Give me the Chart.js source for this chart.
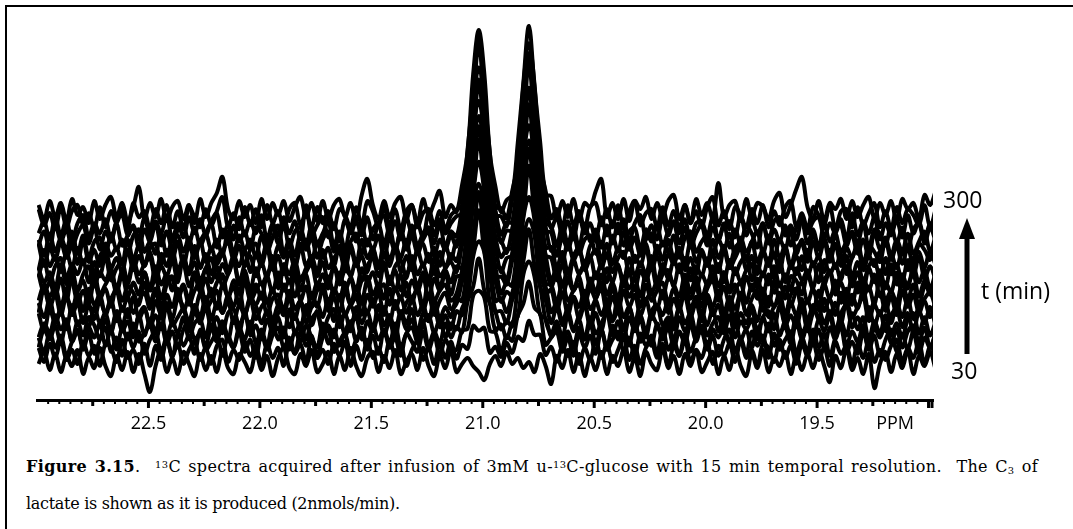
<!DOCTYPE html>
<html>
<head>
<meta charset="utf-8">
<script src="https://cdn.jsdelivr.net/npm/chart.js@4.4.1/dist/chart.umd.min.js"></script>
<style>
  body { margin: 0; background: #fff; width: 1073px; height: 529px; overflow: hidden; position: relative; font-family: "Open Sans", sans-serif; }
  #frame { position: absolute; left: 5px; top: 5px; width: 1090px; height: 560px; border: 2px solid #000; box-sizing: border-box; }
  #wrap { position: absolute; left: 0; top: 0; width: 1073px; height: 440px; }
  .lbl { position: absolute; font-size: 23px; line-height: 1; color: #000; white-space: nowrap; }
  .cap { position: absolute; left: 26px; font-family: "DejaVu Serif", serif; font-size: 16px; line-height: 37px; white-space: nowrap; color: #000; }
  #cap1 { top: 448px; width: 1012px; letter-spacing: 0.35px; text-align: justify; text-align-last: justify; white-space: normal; }
  #cap2 { top: 485px; letter-spacing: -0.3px; }
  .cap sup, .cap sub { font-size: 0.62em; vertical-align: baseline; position: relative; }
  .cap sup { top: -0.45em; }
  .cap sub { top: 0.2em; }
</style>
</head>
<body>
<div id="frame"></div>
<div id="wrap"><canvas id="nmrGraph" width="1073" height="440"></canvas></div>

<div class="lbl" style="left:943px;top:188px;">300</div>
<svg style="position:absolute;left:955px;top:218px;" width="24" height="138">
  <polygon points="12,0 4,21 20,21" fill="#000"/>
  <rect x="9.5" y="18" width="5" height="118" fill="#000"/>
</svg>
<div class="lbl" style="left:981px;top:279px;">t (min)</div>
<div class="lbl" style="left:951px;top:359px;">30</div>

<div class="cap" id="cap1"><b>Figure 3.15</b>.&nbsp; <sup>13</sup>C spectra acquired after infusion of 3mM u-<sup>13</sup>C-glucose with 15 min temporal resolution.&nbsp; The C<sub>3</sub> of</div>
<div class="cap" id="cap2">lactate is shown as it is produced (2nmols/min).</div>

<script>
// spectra every 15 min; values = intensity above each trace's own baseline
var times = [30, 45, 60, 75, 90, 105, 120, 135, 150, 165, 180, 195, 210, 225, 240, 255, 270, 285, 300];

var s30 = [-4,8,-10,6,-12,4,-6,10,-14,2,-8,12,-6,-16,4,-10,8,-12,6,-14,
  -32,-6,10,-12,2,-14,8,-4,-16,6,-10,4,-12,10,-8,-14,6,-2,-12,8,
  -10,4,-16,2,12,-8,-14,6,-6,10,-12,-4,8,-14,4,-10,12,-6,-16,2,
  8,-12,4,-8,10,-14,-2,6,-10,12,-6,-16,4,-8,10,-12,-4,2,-6,-12,
  -20,-4,4,-6,8,-4,2,-8,-2,-12,6,-6,-24,4,-8,10,-12,6,-16,2,
  -10,8,-14,4,-6,10,-12,2,-16,8,-4,-10,12,-8,4,-14,6,-6,10,-12,
  -2,8,-14,4,-10,12,-6,-16,6,-8,10,-12,2,-6,8,-14,4,-10,6,-8,
  10,-6,-22,4,-8,12,-10,2,-14,6,-28,-4,8,-12,6,-8,10,-14,4,-6,
  8,-10];
var s45 = [4,-10,8,-6,12,-8,2,-12,10,-4,6,-14,8,4,-10,12,-6,2,-12,8,
  -14,6,-8,12,-4,8,-12,2,10,-8,4,-12,6,12,-10,2,-8,10,-4,6,
  -12,8,-6,4,-14,10,-2,8,-10,14,-6,2,-12,8,-4,10,-14,6,-8,12,
  -6,4,-10,12,-4,8,-14,2,10,-8,4,-12,8,-6,10,-7,7,3,26,21,
  24,-1,5,-5,9,-1,15,11,31,17,17,-3,5,-10,6,-4,10,-12,4,-8,
  12,-6,8,-10,2,14,-8,6,-12,4,10,-6,8,-14,6,-4,12,-10,2,-6,
  10,-12,6,-4,8,-10,12,-6,2,-14,8,4,-10,12,-6,6,-12,8,-4,10,
  -8,4,-14,10,-2,6,-12,8,-6,12,-10,2,-8,6,12,-10,4,-6,10,-12,
  6,-4];
var s60 = [6,-8,12,-4,8,-12,2,14,-6,10,-10,4,16,-8,6,-12,10,-4,12,-10,
  4,12,-8,6,-14,10,-2,8,-10,14,-6,2,10,-12,8,-4,12,-8,4,-14,
  10,-6,8,16,-4,6,-10,12,-2,8,-12,6,14,-8,2,10,-10,4,12,-6,
  8,-10,14,-4,6,-12,10,2,-8,12,-6,8,-12,4,-6,-6,13,15,48,53,
  46,13,11,-8,8,3,28,40,62,36,30,-1,6,12,-8,6,-12,10,-4,8,
  -10,14,-6,4,12,-8,6,-14,10,-2,8,-10,16,-6,4,-12,10,-8,6,12,
  -6,8,-12,4,14,-8,6,-10,12,-2,8,-14,10,-6,4,12,-10,6,-8,14,
  -4,10,-12,6,16,-8,2,-10,12,-6,8,-12,4,14,-8,10,-6,12,-10,6,
  -4,10];
var s75 = [-12,6,-4,10,-8,14,-6,4,-10,8,-2,12,-10,6,-14,8,-4,12,-6,2,
  10,-6,12,-8,4,-12,6,14,-4,2,-10,8,-6,12,-2,-12,8,-4,14,-8,
  6,-10,12,-4,8,-14,4,-6,10,-2,-12,12,-8,6,-10,4,14,-6,8,-12,
  10,-4,6,-8,12,-12,2,8,-6,14,-10,4,-8,12,-2,9,3,34,49,77,
  45,32,5,11,-3,13,19,61,74,59,21,17,-1,10,-8,4,-12,8,-4,12,
  -8,6,-12,10,-4,8,-10,14,-6,2,-10,12,-4,8,-12,4,-8,12,-6,10,
  -12,6,-2,10,-8,14,-4,6,-12,8,-6,12,-10,2,8,-8,14,-4,10,-10,
  6,-12,8,-4,12,-10,4,-6,10,-14,8,-2,12,-8,6,-12,4,10,-6,8,
  -12,4];
var s90 = [-10,4,-6,12,-2,8,-14,6,-8,10,2,-12,8,-6,14,-4,6,-10,12,-8,
  8,-4,14,-10,6,-6,10,-12,4,8,-10,12,-4,6,-14,10,-6,16,-8,2,
  -12,8,-4,10,-10,18,-6,4,-12,8,14,-6,2,-10,12,-8,4,10,-12,6,
  -4,12,-8,6,-12,14,-2,8,-10,4,12,-6,8,-10,4,-2,19,30,71,86,
  75,24,15,-2,6,1,39,66,98,62,41,7,-6,6,-10,12,-4,8,-12,10,
  -6,4,14,-8,6,-12,10,-4,8,-10,12,2,-8,6,-14,10,-4,8,-10,14,
  -8,4,10,-6,12,-10,6,-2,8,-12,10,-4,14,-8,6,-10,12,-6,4,-12,
  8,-4,12,-10,6,-8,14,-2,10,-12,6,-6,12,-8,4,-10,8,14,-6,10,
  -8,6];
var s105 = [6,-12,10,-4,8,-10,14,-6,2,-8,12,-4,6,-12,8,-6,10,-14,4,12,
  -8,4,-10,14,-6,2,10,-12,8,-4,12,-8,2,-14,6,10,-6,4,-10,12,
  -4,8,-12,6,12,-8,4,-10,14,-6,8,-12,2,10,-8,6,-12,12,-4,8,
  -10,14,-6,4,-12,8,-4,10,-14,6,-2,12,-8,4,-10,8,4,42,70,109,
  68,44,8,8,-4,19,33,80,100,84,33,19,-4,12,-6,8,-10,4,14,-8,
  6,-12,10,-2,8,-10,12,-6,4,-12,8,14,-6,2,-10,12,-4,6,-14,8,
  -6,10,-12,4,12,-8,6,-4,10,-12,2,8,-10,14,-6,4,-8,12,-12,6,
  10,-4,8,-12,6,14,-8,2,-10,12,-6,8,-12,4,10,-8,6,-14,8,-4,
  12,-8];
var s120 = [8,-6,12,-10,4,14,-4,8,-12,6,-8,10,-2,12,-10,4,-6,14,-8,2,
  -12,10,-4,8,-8,12,4,-10,6,-6,14,-8,8,-2,10,-12,6,-4,12,-8,
  4,10,-10,6,-4,14,-8,10,-12,4,8,-6,12,-10,16,-4,6,-8,10,-2,
  12,-8,4,-12,10,-6,8,14,-4,6,-10,12,-8,4,-6,13,10,46,75,119,
  77,50,10,13,-1,18,39,93,114,91,33,24,-1,8,-10,4,12,-8,6,-12,
  10,-4,8,-10,14,-6,4,-12,8,12,-8,6,-4,10,-12,6,14,-6,8,-10,
  12,-4,6,-12,10,-8,16,-2,6,-10,12,-6,4,10,-12,8,-4,12,-10,6,
  -8,12,-4,8,-12,10,-6,4,14,-10,6,-4,10,-12,8,-6,12,-8,4,10,
  -6,12];
var s135 = [-10,14,-4,8,-12,6,-6,10,-8,14,-2,8,-12,4,12,-8,6,-10,2,10,
  -6,12,-12,8,-4,14,-8,4,-10,10,-6,2,12,-10,8,-4,14,-12,6,-2,
  10,-12,4,8,-8,12,-6,2,-12,10,-4,14,-8,6,-10,12,-2,6,-12,8,
  -4,10,-12,14,-6,6,-10,4,12,-8,8,-12,2,10,-6,-1,21,40,98,119,
  94,36,21,1,11,7,49,87,137,89,51,9,13,-8,10,-12,6,-4,12,-6,
  4,14,-10,6,-8,12,-4,8,-12,2,10,-6,12,-10,4,-8,14,-6,6,-12,
  8,-4,12,-10,6,-6,10,-12,4,12,-8,6,-4,10,-12,8,14,-6,2,-10,
  12,-8,4,-12,10,-4,8,-6,14,-10,2,10,-8,6,-12,12,-4,8,-10,4,
  10,-6];
var s150 = [-6,10,-2,8,-12,6,12,-8,4,-10,14,-4,6,-12,10,-6,8,2,-10,12,
  -8,6,-12,10,16,-4,8,-10,4,12,-8,6,-14,10,-2,8,-10,14,-6,4,
  12,-8,6,-10,10,-4,20,-6,8,-12,4,10,-8,6,-4,12,-10,8,-6,14,
  -8,4,10,-10,6,-4,12,-8,8,-12,16,-6,4,10,-6,1,24,41,101,133,
  103,39,26,1,12,9,53,99,146,97,57,11,10,-8,12,-6,4,10,-10,6,
  -4,12,-8,6,-10,14,-2,8,-12,10,-6,4,12,-8,6,-10,10,-4,8,-12,
  6,14,-6,8,-10,4,12,-8,10,-4,6,-12,14,-6,8,-10,4,12,-8,6,
  -12,10,-4,14,-8,6,-10,12,-2,8,-10,16,-6,4,-8,12,-4,10,-12,8,
  4,-8];
var s165 = [12,-6,4,-10,8,-14,10,-4,6,-12,14,-8,2,10,-6,12,-10,4,-8,14,
  -4,8,-12,6,10,-8,2,-14,12,-6,8,-10,4,12,-12,6,-4,10,-8,2,
  -12,10,-6,14,-4,6,-10,8,12,-12,4,-6,10,-8,14,-4,8,-12,6,10,
  -8,2,-12,10,-4,12,-10,6,-6,10,-12,8,-4,14,-8,10,11,58,97,147,
  99,56,9,10,2,26,46,111,146,113,44,22,0,12,-10,6,-4,10,-12,8,
  -6,12,-8,4,-12,10,-2,8,-10,14,-6,4,-12,8,2,-10,12,-6,10,-12,
  4,8,-10,14,-6,2,-12,10,-4,8,-10,12,-6,4,-12,10,6,-8,12,-4,
  -10,6,14,-8,4,-12,10,-6,8,-4,12,-10,4,-6,14,-8,2,12,-10,6,
  -8,12];
var s180 = [10,-4,6,-10,14,-6,8,-12,4,12,-8,6,-2,10,-12,8,-6,14,-4,6,
  -10,12,-6,4,-12,8,14,-8,6,-10,10,-4,12,-8,4,16,-6,8,-12,10,
  -6,4,12,-10,8,-4,10,-12,6,14,-8,4,-10,12,-6,8,2,-12,10,-4,
  6,-10,14,-6,8,-12,4,10,-8,6,-4,12,-10,8,-4,12,10,57,102,152,
  104,61,12,10,-2,25,50,120,153,118,48,23,-2,10,-6,8,-12,4,12,-8,
  6,-10,10,-4,14,-8,6,-12,8,-2,12,-10,4,8,-8,14,-6,10,-10,4,
  -6,12,-8,6,-12,10,-4,8,14,-10,6,-6,12,-8,4,-12,10,-2,8,-10,
  14,-6,8,-10,4,12,-8,6,-12,10,-4,8,-10,14,-6,4,-10,12,-4,8,
  -10,6];
var s195 = [-6,10,-12,4,12,-8,6,-4,10,-12,8,-6,14,-10,2,8,-12,10,-4,6,
  12,-10,4,-6,10,-12,14,-4,8,-10,2,12,-8,6,-4,10,-12,6,14,-6,
  8,-8,14,-12,6,-4,10,-10,2,12,-6,8,-12,4,-8,14,-6,10,-10,4,
  12,-6,8,-12,4,10,-8,14,-4,6,-10,12,-6,2,8,-2,25,49,118,154,
  122,49,23,-2,12,15,65,111,166,109,63,15,12,-10,6,-12,10,-4,8,14,
  -8,6,-12,10,4,-10,12,-6,8,-4,14,-12,6,-8,10,-2,12,-10,4,-6,
  12,-8,6,-12,10,-4,8,14,-10,4,-6,12,-8,10,-12,6,-4,14,-6,8,
  -12,10,-4,6,-10,14,-6,8,-12,4,10,-8,12,-4,6,-12,10,-6,14,-8,
  4,-10];
var s210 = [-8,12,-4,6,-10,10,-6,14,-2,8,-12,6,12,-6,4,-10,12,-8,6,-4,
  10,-12,8,-4,12,-8,4,-10,16,-6,8,-12,4,10,-8,6,-4,12,-10,8,
  -4,14,-8,6,-12,10,-6,18,-4,6,-10,12,-6,4,10,-8,14,-4,6,-10,
  12,-6,8,-4,14,-10,6,-8,12,-4,8,-12,10,-6,8,1,24,50,125,161,
  127,52,24,5,13,14,67,117,174,113,63,14,15,-6,10,-10,6,14,-8,4,
  12,-6,8,-10,4,10,-12,6,-4,14,-8,6,-10,8,-2,12,-8,4,-12,10,
  -4,8,-10,12,-6,4,14,-8,6,-12,10,-4,8,-10,14,-6,6,-8,12,-4,
  6,-10,12,-6,8,-12,4,14,-8,6,-4,10,-12,8,-6,12,-8,4,10,-6,
  12,-4];
var s225 = [10,-12,6,-6,12,-4,8,-10,14,-8,4,-12,10,-2,6,-10,14,-6,8,-12,
  6,10,-10,4,-6,12,-12,8,-4,14,-8,6,-10,2,12,-6,8,-12,4,10,
  -6,12,-10,8,-4,10,-12,6,14,-8,12,-4,6,-12,8,-6,10,-10,14,-4,
  6,-12,10,-6,8,-4,14,-10,4,10,-8,6,-12,8,-6,13,16,65,114,173,
  116,67,16,13,1,25,56,132,166,128,52,27,3,10,-8,12,-6,4,-12,8,
  14,-6,10,-10,6,-4,12,-8,2,10,-12,8,-6,14,-4,6,-10,12,-8,4,
  -10,14,-4,8,-12,6,10,-6,12,-8,4,-10,14,-4,8,-12,6,10,-8,12,
  -4,12,-8,10,-12,6,-4,12,-10,8,2,-8,14,-6,8,-10,6,-12,10,4,
  -6,14];
var s240 = [6,-10,12,-6,8,-4,14,-8,10,-12,4,8,-10,12,-4,6,-8,10,16,-6,
  4,-8,12,-10,6,10,-6,8,-12,4,12,-4,6,-10,14,-8,10,-4,6,-12,
  10,-6,8,20,-8,6,-10,12,-4,8,-12,6,14,-6,10,-10,4,12,-8,6,
  -4,10,-12,8,-6,14,-4,10,-8,6,14,-10,6,-4,10,-1,27,56,132,166,
  128,52,27,3,15,15,65,118,181,122,69,15,13,-10,8,-4,12,-8,6,10,
  -8,4,-12,10,-6,14,-4,8,-10,6,12,-8,4,-6,10,-12,8,14,-6,4,
  10,-8,6,-4,12,-10,8,-6,4,14,-8,10,-12,6,-4,16,-8,6,-10,12,
  -4,8,-10,12,-6,4,10,-8,6,-12,14,-4,8,-10,6,-6,12,-8,4,14,
  -6,10];
var s255 = [-8,6,-12,14,-4,8,-10,4,12,-6,10,-12,6,-4,14,-8,2,10,-10,8,
  -4,14,-8,6,-12,8,12,-6,10,-8,4,14,-10,8,-6,12,-4,6,-12,10,
  4,-8,12,-6,14,-10,6,10,-8,12,-6,4,16,-8,6,-12,10,-4,12,-8,
  8,14,-6,10,-12,6,-6,12,-8,4,10,-6,14,-10,6,1,29,58,133,170,
  131,54,27,3,15,15,66,122,184,124,70,15,11,-8,12,-6,10,-10,14,-4,
  8,-10,12,-6,14,-8,6,10,-12,8,-4,12,-8,6,14,-6,10,-10,4,12,
  -8,10,-4,14,-10,8,-6,12,4,-10,14,-6,8,-4,12,-8,10,16,-6,8,
  -10,14,-4,8,12,-8,6,-6,14,-10,8,4,-8,12,-6,10,-12,8,14,-6,
  10,-4];
var s270 = [-4,8,-10,12,-6,10,-12,6,14,-8,6,-4,10,-10,8,14,-6,4,-10,12,
  -6,8,-4,14,-10,6,-8,12,-4,10,-6,8,16,-8,4,-10,12,-6,8,-4,
  14,-10,6,-6,12,-4,8,-10,24,-6,4,12,-8,6,-12,10,-4,8,-6,12,
  -10,6,14,-6,8,-10,12,-4,6,-8,16,-6,10,-4,6,13,16,67,126,186,
  124,67,14,13,3,30,57,134,176,136,55,26,1,12,-6,8,-10,14,-4,6,
  -10,12,-6,8,-4,10,-12,6,14,-8,4,-10,12,-6,8,-4,10,-12,6,8,
  -6,12,-10,4,8,-8,14,-6,10,-4,6,-12,8,12,-6,4,-10,10,-4,8,
  12,-8,6,-4,10,-10,16,-6,8,-4,12,-10,6,-6,10,-8,14,-4,8,-10,
  6,-6];
var s285 = [12,-4,8,-8,14,-6,10,16,-4,8,-8,14,-6,10,-2,12,-8,18,4,10,
  -8,12,-2,16,-6,10,-8,14,4,-6,12,-4,10,24,-6,8,-8,14,-4,12,
  -6,16,-2,10,-8,12,18,-4,8,-6,14,-2,10,-8,12,6,-6,14,-4,20,
  10,-6,14,-4,12,-8,10,16,-6,8,12,-4,10,-8,6,11,16,72,128,189,
  126,68,14,13,3,30,58,135,178,137,58,30,3,12,-6,16,-4,10,-8,14,
  18,-4,12,-6,16,-8,10,20,-4,8,12,-6,14,-4,10,-8,16,-2,10,-6,
  14,24,-4,10,-8,14,6,-6,12,-2,16,-6,10,-4,14,20,-6,8,-8,14,
  6,-4,16,-8,10,12,-6,14,-4,8,18,-6,10,-8,14,-2,12,6,-4,16,
  -6,12];
var s300 = [8,-6,12,-4,10,-8,14,-2,6,-10,12,-6,8,16,-4,10,-8,6,26,-6,
  10,-4,14,-8,6,12,-6,8,-10,14,-4,10,20,36,4,-6,12,-4,8,-10,
  14,-6,10,-2,12,-8,6,16,-4,10,-8,12,-6,8,14,-4,10,-8,18,34,
  8,-6,12,-4,10,16,-6,8,-10,14,-2,10,22,-4,8,1,28,61,139,183,
  139,59,26,1,13,18,70,130,187,126,72,18,17,-6,12,-4,14,-8,10,6,
  22,34,-4,10,-6,14,-8,12,4,16,-6,10,-4,12,18,-6,8,-10,14,-2,
  10,-6,30,-4,8,12,-8,14,-4,10,6,-6,12,20,-4,8,24,36,6,-6,
  12,-8,10,4,14,-6,12,-4,8,16,-6,10,-2,12,-8,14,4,10,-6,18,
  8,22];

var spectra = [s30, s45, s60, s75, s90, s105, s120, s135, s150, s165,
               s180, s195, s210, s225, s240, s255, s270, s285, s300];

// x axis (ppm, reversed) and its labels
var ppmStart = 22.993, ppmStep = 0.025;
var majorTicks = [22.5, 22.0, 21.5, 21.0, 20.5, 20.0, 19.5, 19.15];
var majorLabels = ['22.5', '22.0', '21.5', '21.0', '20.5', '20.0', '19.5', 'PPM'];

// minor tick marks every 0.05 ppm
var minorTicks = [];
for (var k = 380; k <= 459; k++) minorTicks.push(k / 20);

function baseline(t) {
    // stack offset: later spectra sit higher
    return 40 + (t - 30) * 147 / 270;
}

var datasets = spectra.map(function (vals, n) {
    var b = baseline(times[n]);
    return {
        label: times[n] + ' min',
        data: vals.map(function (v, i) { return { x: ppmStart - i * ppmStep, y: b + v }; }),
        borderColor: '#000',
        borderWidth: 4,
        pointRadius: 0,
        tension: 0.35,
        fill: false
    };
});

var tickMarks = {
    id: 'tickMarks',
    afterDraw: function (chart) {
        var sc = chart.scales.x, ctx = chart.ctx;
        ctx.save();
        ctx.strokeStyle = '#000';
        minorTicks.forEach(function (v) {
            var x = sc.getPixelForValue(v);
            var q = Math.round(v * 20);
            var len = 4, w = 2;
            if (q % 10 === 0) { len = 8; w = 3; }
            else if (q % 5 === 0) { len = 6; w = 3; }
            ctx.lineWidth = w;
            ctx.beginPath();
            ctx.moveTo(x, sc.top);
            ctx.lineTo(x, sc.top + len);
            ctx.stroke();
        });
        // closing tick at the right end
        ctx.lineWidth = 3;
        ctx.beginPath();
        ctx.moveTo(sc.right - 1, sc.top);
        ctx.lineTo(sc.right - 1, sc.top + 8);
        ctx.stroke();
        ctx.restore();
    }
};

var nmrConfig = {
    type: 'line',
    data: { datasets: datasets },
    options: {
        responsive: false,
        animation: false,
        devicePixelRatio: 1,
        layout: { padding: { left: 37, right: 140, top: 20, bottom: 0 } },
        plugins: { legend: { display: false }, tooltip: { enabled: false } },
        scales: {
            x: {
                type: 'linear',
                reverse: true,
                min: 18.98,
                max: 23.0,
                afterBuildTicks: function (axis) {
                    axis.ticks = majorTicks.map(function (v) { return { value: v }; });
                },
                afterFit: function (axis) { axis.height = 40; },
                border: { display: true, width: 3, color: '#000' },
                grid: { display: true, drawOnChartArea: false, drawTicks: true, tickLength: 8, tickColor: 'rgba(0,0,0,0)' },
                ticks: {
                    autoSkip: false,
                    maxRotation: 0,
                    padding: 5,
                    color: '#000',
                    font: { family: 'Open Sans', size: 18 },
                    callback: function (value) {
                        var k = majorTicks.findIndex(function (m) { return Math.abs(m - value) < 1e-6; });
                        return k >= 0 ? majorLabels[k] : '';
                    }
                }
            },
            y: { type: 'linear', min: 0, max: 380, display: false }
        }
    },
    plugins: [tickMarks]
};

var nmrCtx = document.getElementById('nmrGraph');
var nmrChart = new Chart(nmrCtx, nmrConfig);
</script>
</body>
</html>
